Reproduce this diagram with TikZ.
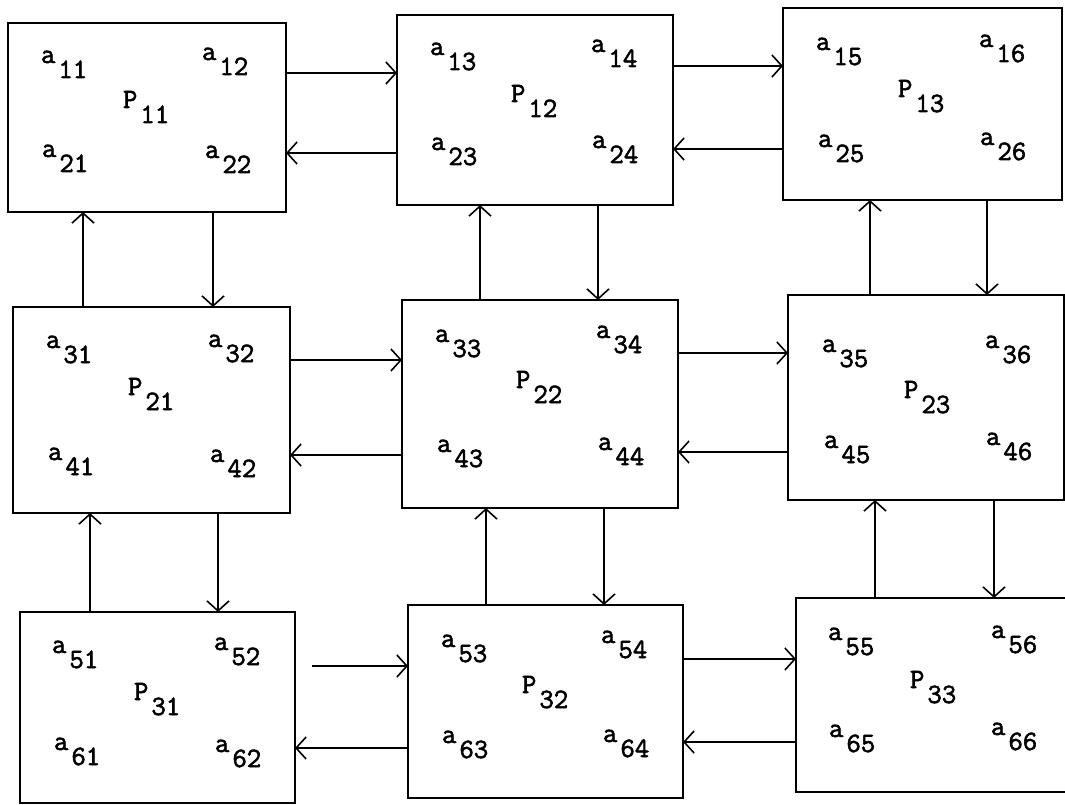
\documentclass[tikz,border=0pt]{standalone}
\usepackage{fontspec}
\newfontfamily\twfont{Latin Modern Mono}[FakeBold=2]
\usetikzlibrary{arrows.meta}
\newcommand{\lbl}[2]{#1\hspace{3pt}\raisebox{-15pt}{#2}}
\tikzset{
  proc/.style={draw, line width=1.6pt, rectangle, inner sep=0pt, outer sep=0pt},
  lab/.style={anchor=base west, inner sep=0pt, outer sep=0pt, font=\twfont\fontsize{28}{30}\selectfont},
  arr/.style={line width=1.6pt, -{Straight Barb[length=10pt,width=22pt,line width=1.6pt]}},
}
\begin{document}
\begin{tikzpicture}[x=1pt,y=-1pt]
\useasboundingbox (0,0) rectangle (1065,805);
\clip (0,0) rectangle (1065,805);
% boxes
\node[proc, minimum width=278pt, minimum height=189pt] (b11) at (147,117.5) {};
\node[proc, minimum width=276pt, minimum height=190pt] (b12) at (535,110) {};
\node[proc, minimum width=279pt, minimum height=192pt] (b13) at (922.5,104) {};
\node[proc, minimum width=277pt, minimum height=206pt] (b21) at (151.5,410) {};
\node[proc, minimum width=276pt, minimum height=208pt] (b22) at (540,404) {};
\node[proc, minimum width=276pt, minimum height=205pt] (b23) at (926,397.5) {};
\node[proc, minimum width=275pt, minimum height=191pt] (b31) at (157.5,707.5) {};
\node[proc, minimum width=275pt, minimum height=193pt] (b32) at (545.5,701.5) {};
\node[proc, minimum width=270pt, minimum height=194pt] (b33) at (931,695) {};
% labels P11
\node[lab] (a11) at (41,63) {\lbl{a}{11}};
\node[lab] (a12) at (202,60) {\lbl{a}{12}};
\node[lab] (a21) at (42,157) {\lbl{a}{21}};
\node[lab] (a22) at (205,158) {\lbl{a}{22}};
\node[lab] (p11) at (123,108) {\lbl{P}{11}};
% P12
\node[lab] (a13) at (430,55) {\lbl{a}{13}};
\node[lab] (a14) at (591,52) {\lbl{a}{14}};
\node[lab] (a23) at (431,150) {\lbl{a}{23}};
\node[lab] (a24) at (592,148) {\lbl{a}{24}};
\node[lab] (p12) at (511,102) {\lbl{P}{12}};
% P13
\node[lab] (a15) at (816,50) {\lbl{a}{15}};
\node[lab] (a16) at (979,47) {\lbl{a}{16}};
\node[lab] (a25) at (818,147) {\lbl{a}{25}};
\node[lab] (a26) at (980,145) {\lbl{a}{26}};
\node[lab] (p13) at (898,97) {\lbl{P}{13}};
% P21
\node[lab] (a31) at (46,348) {\lbl{a}{31}};
\node[lab] (a32) at (208,347) {\lbl{a}{32}};
\node[lab] (a41) at (48,460) {\lbl{a}{41}};
\node[lab] (a42) at (210,462) {\lbl{a}{42}};
\node[lab] (p21) at (128,395) {\lbl{P}{21}};
% P22
\node[lab] (a33) at (435,342) {\lbl{a}{33}};
\node[lab] (a34) at (596,338) {\lbl{a}{34}};
\node[lab] (a43) at (437,452) {\lbl{a}{43}};
\node[lab] (a44) at (598,450) {\lbl{a}{44}};
\node[lab] (p22) at (516,388) {\lbl{P}{22}};
% P23
\node[lab] (a35) at (822,352) {\lbl{a}{35}};
\node[lab] (a36) at (985,348) {\lbl{a}{36}};
\node[lab] (a45) at (824,448) {\lbl{a}{45}};
\node[lab] (a46) at (986,445) {\lbl{a}{46}};
\node[lab] (p23) at (904,398) {\lbl{P}{23}};
% P31
\node[lab] (a51) at (52,653) {\lbl{a}{51}};
\node[lab] (a52) at (214,650) {\lbl{a}{52}};
\node[lab] (a61) at (54,750) {\lbl{a}{61}};
\node[lab] (a62) at (215,752) {\lbl{a}{62}};
\node[lab] (p31) at (134,700) {\lbl{P}{31}};
% P32
\node[lab] (a53) at (441,647) {\lbl{a}{53}};
\node[lab] (a54) at (601,643) {\lbl{a}{54}};
\node[lab] (a63) at (442,743) {\lbl{a}{63}};
\node[lab] (a64) at (603,742) {\lbl{a}{64}};
\node[lab] (p32) at (522,693) {\lbl{P}{32}};
% P33
\node[lab] (a55) at (828,640) {\lbl{a}{55}};
\node[lab] (a56) at (991,638) {\lbl{a}{56}};
\node[lab] (a65) at (829,737) {\lbl{a}{65}};
\node[lab] (a66) at (991,735) {\lbl{a}{66}};
\node[lab] (p33) at (910,688) {\lbl{P}{33}};
% horizontal connectors, row 1
\draw[arr] (b11.east |- 0,73) -- (b12.west |- 0,73);
\draw[arr] (b12.west |- 0,153) -- (b11.east |- 0,153);
\draw[arr] (b12.east |- 0,66) -- (b13.west |- 0,66);
\draw[arr] (b13.west |- 0,149) -- (b12.east |- 0,149);
% row 2
\draw[arr] (b21.east |- 0,360) -- (b22.west |- 0,360);
\draw[arr] (b22.west |- 0,455) -- (b21.east |- 0,455);
\draw[arr] (b22.east |- 0,353) -- (b23.west |- 0,353);
\draw[arr] (b23.west |- 0,452) -- (b22.east |- 0,452);
% row 3
\coordinate (s3) at (312,666);
\draw[arr] (s3) -- (b32.west |- s3);
\draw[arr] (b32.west |- 0,748) -- (b31.east |- 0,748);
\draw[arr] (b32.east |- 0,659) -- (b33.west |- 0,659);
\draw[arr] (b33.west |- 0,742) -- (b32.east |- 0,742);
% vertical connectors, column 1
\draw[arr] (b21.north -| 83,0) -- (b11.south -| 83,0);
\draw[arr] (b11.south -| 213,0) -- (b21.north -| 213,0);
\draw[arr] (b31.north -| 90,0) -- (b21.south -| 90,0);
\draw[arr] (b21.south -| 218,0) -- (b31.north -| 218,0);
% column 2
\draw[arr] (b22.north -| 480,0) -- (b12.south -| 480,0);
\draw[arr] (b12.south -| 598,0) -- (b22.north -| 598,0);
\draw[arr] (b32.north -| 486,0) -- (b22.south -| 486,0);
\draw[arr] (b22.south -| 604,0) -- (b32.north -| 604,0);
% column 3
\draw[arr] (b23.north -| 870,0) -- (b13.south -| 870,0);
\draw[arr] (b13.south -| 987,0) -- (b23.north -| 987,0);
\draw[arr] (b33.north -| 875,0) -- (b23.south -| 875,0);
\draw[arr] (b23.south -| 994,0) -- (b33.north -| 994,0);
\end{tikzpicture}
\end{document}
